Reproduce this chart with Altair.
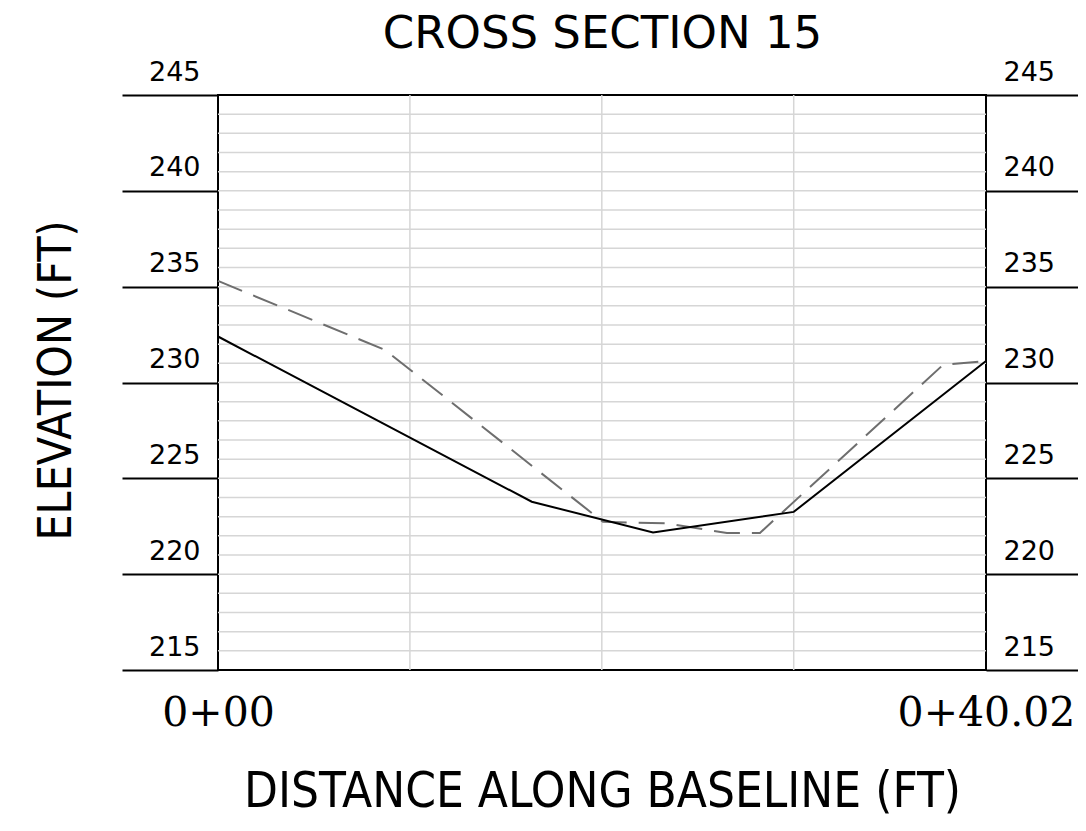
import altair as alt
import pandas as pd

# Proposed (solid) section
prop_dist = [0.0, 16.35, 22.67, 30.0, 40.02]
prop_elev = [232.4, 223.78, 222.17, 223.25, 231.12]

# Existing ground (dashed) section
exist_dist = [0.0, 8.7, 20.06, 23.4, 26.52, 28.24, 37.78, 40.02]
exist_elev = [235.3, 231.7, 222.73, 222.65, 222.15, 222.15, 230.92, 231.12]

# Grid and tick values
grid_elev = list(range(216, 245))
grid_dist = [10, 20, 30]
tick_elev = [215, 220, 225, 230, 235, 240, 245]
station_ticks = [0.0, 40.02]

x_domain = [0, 40.02]
y_domain = [215, 245]

df_prop = pd.DataFrame({"dist": prop_dist, "elev": prop_elev})
df_exist = pd.DataFrame({"dist": exist_dist, "elev": exist_elev})
df_gh = pd.DataFrame({"elev": grid_elev})
df_gv = pd.DataFrame({"dist": grid_dist})

xscale = alt.Scale(domain=x_domain, nice=False, zero=False)
yscale = alt.Scale(domain=y_domain, nice=False, zero=False)

SANS = "DejaVu Sans"
COND = "DejaVu Sans Condensed, Liberation Sans Narrow, DejaVu Sans"

left_axis = alt.Axis(
    values=tick_elev, orient="left", grid=False, domain=False,
    tickSize=96, tickColor="black", tickWidth=1.8,
    labelFont=SANS, labelFontSize=27, labelColor="black",
    labelAlign="right", labelBaseline="alphabetic",
    labelPadding=-78, labelOffset=-15, labelFlush=False, labelOverlap=False,
    title="ELEVATION (FT)", titleFont=COND, titleFontSize=46,
    titleFontWeight="normal", titleColor="black", titleAngle=-90,
    titleBaseline="alphabetic", titleAlign="center", titleX=-148, titleY=285,
)
right_axis = alt.Axis(
    values=tick_elev, orient="right", grid=False, domain=False,
    tickSize=96, tickColor="black", tickWidth=1.8,
    labelFont=SANS, labelFontSize=27, labelColor="black",
    labelAlign="left", labelBaseline="alphabetic",
    labelPadding=-79, labelOffset=-15, labelFlush=False, labelOverlap=False,
    title=None,
)
x_axis = alt.Axis(
    values=station_ticks, orient="bottom", grid=False, domain=False,
    ticks=False, labelFont="DejaVu Serif", labelFontSize=41, labelColor="black",
    labelAlign="center", labelBaseline="alphabetic", labelPadding=55,
    labelFlush=False, labelOverlap=False,
    labelExpr="'0+' + (datum.value < 10 ? '0' : '') + format(datum.value, datum.value == 0 ? '.0f' : '.2f')",
    title="DISTANCE ALONG BASELINE (FT)", titleFont=COND, titleFontSize=49,
    titleFontWeight="normal", titleColor="black",
    titleBaseline="alphabetic", titleAlign="center", titleX=384, titleY=136,
)
# top axis carries the chart title (placed explicitly above the plot)
top_axis = alt.Axis(
    orient="top", values=station_ticks, grid=False, domain=False, ticks=False,
    labels=False,
    title="CROSS SECTION 15", titleFont=SANS, titleFontSize=45,
    titleFontWeight="normal", titleColor="black",
    titleBaseline="alphabetic", titleAlign="center", titleX=384, titleY=-48,
)

grid_h = alt.Chart(df_gh).mark_rule(color="#d6d6d6", strokeWidth=1.5).encode(
    y=alt.Y("elev:Q", scale=yscale, axis=left_axis)
)
grid_v = alt.Chart(df_gv).mark_rule(color="#d6d6d6", strokeWidth=1.5).encode(
    x=alt.X("dist:Q", scale=xscale, axis=x_axis)
)
exist_line = alt.Chart(df_exist).mark_line(
    color="#6e6e6e", strokeWidth=2, strokeDash=[26, 12]
).encode(
    x=alt.X("dist:Q", scale=xscale, axis=None),
    y=alt.Y("elev:Q", scale=yscale, axis=right_axis),
    order="dist:Q",
)
prop_line = alt.Chart(df_prop).mark_line(color="black", strokeWidth=2).encode(
    x=alt.X("dist:Q", scale=xscale, axis=top_axis),
    y=alt.Y("elev:Q", scale=yscale, axis=None),
    order="dist:Q",
)

chart = (
    alt.layer(grid_h, grid_v, exist_line, prop_line)
    .resolve_axis(x="independent", y="independent")
    .properties(
        width=768, height=575,
        autosize=alt.AutoSizeParams(type="none"),
        padding={"left": 210, "top": 87, "right": 92, "bottom": 150},
        background="white",
    )
    .configure_view(stroke="black", strokeWidth=2)
)

chart.save("out.html", embed_options={"renderer": "svg", "actions": False})
